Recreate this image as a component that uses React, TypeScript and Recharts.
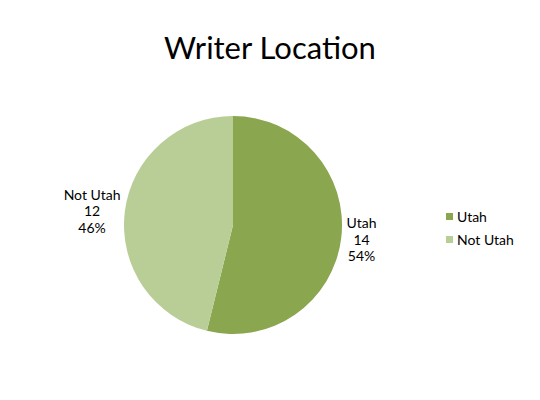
import { PieChart, Pie, Cell } from 'recharts';

const categories = ['Utah', 'Not Utah'];
const counts = [14, 12];
const COLORS = ['#8AA64E', '#B9CE97'];
const FONT = 'Lato, "Noto Sans", sans-serif';
const RAD = Math.PI / 180;

const data = categories.map((name, i) => ({ name, value: counts[i] }));
const total = counts.reduce((a, b) => a + b, 0);

function renderLabel(props: any) {
  const { cx, cy, midAngle, outerRadius, name, value } = props;
  const cos = Math.cos(-midAngle * RAD);
  const sin = Math.sin(-midAngle * RAD);
  const ex = cx + (outerRadius + 8) * cos;
  const ey = cy + (outerRadius + 8) * sin;
  const halfW = (String(name).length * 6.2) / 2;
  const x = cos >= 0 ? ex + halfW : ex - halfW;
  const pct = `${Math.round((value / total) * 100)}%`;
  return (
    <text x={x} y={ey} textAnchor="middle" fontFamily={FONT} fontSize={14} fill="#000">
      <tspan x={x} dy={-11}>{name}</tspan>
      <tspan x={x} dy={16.5}>{value}</tspan>
      <tspan x={x} dy={16.5}>{pct}</tspan>
    </text>
  );
}

export default function App() {
  return (
    <div style={{ position: 'absolute', left: 0, top: 0, width: 540, height: 400, background: '#fff' }}>
      <div
        style={{
          position: 'absolute',
          left: 0,
          width: 540,
          top: 27,
          textAlign: 'center',
          fontFamily: FONT,
          fontSize: 31,
          color: '#000',
          lineHeight: '40px',
        }}
      >
        Writer Location
      </div>
      <PieChart width={540} height={400} margin={{ top: 0, right: 0, bottom: 0, left: 0 }}>
        <Pie
          data={data}
          dataKey="value"
          nameKey="name"
          cx={233}
          cy={225}
          outerRadius={109}
          startAngle={90}
          endAngle={-270}
          stroke="none"
          label={renderLabel}
          labelLine={false}
          isAnimationActive={false}
        >
          {data.map((d, i) => (
            <Cell key={d.name} fill={COLORS[i]} />
          ))}
        </Pie>
      </PieChart>
      <div style={{ position: 'absolute', left: 446, top: 205, fontFamily: FONT, fontSize: 14 }}>
        {categories.map((c, i) => (
          <div key={c} style={{ display: 'flex', alignItems: 'center', height: 23 }}>
            <span style={{ width: 7, height: 7, background: COLORS[i], marginRight: 4 }} />
            <span>{c}</span>
          </div>
        ))}
      </div>
    </div>
  );
}
